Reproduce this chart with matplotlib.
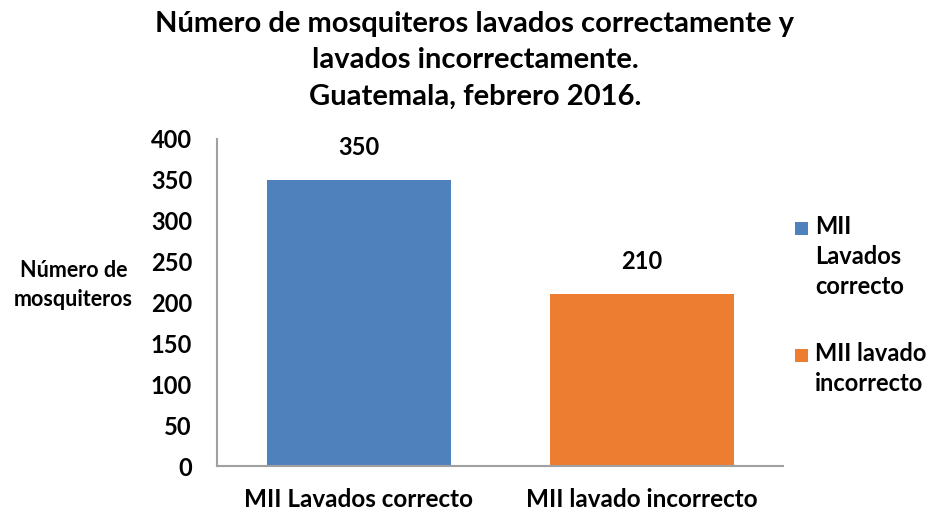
import matplotlib.pyplot as plt
from matplotlib.patches import Rectangle

# mosquiteros lavados, Guatemala febrero 2016
categorias = ['MII Lavados correcto', 'MII lavado incorrecto']
leyenda = ['MII\nLavados\ncorrecto', 'MII lavado\nincorrecto']
valores = [350, 210]
colores = ['#4F81BD', '#ED7D31']

plt.rcParams['font.family'] = ['Lato', 'DejaVu Sans']
plt.rcParams['font.weight'] = 'bold'

W, H = 933, 515
fig = plt.figure(figsize=(W / 100, H / 100), dpi=100)
ax = fig.add_axes([0.2326, 0.0951, 0.607, 0.635])

x = range(len(categorias))
barras = ax.bar(x, valores, width=0.65, color=colores)
for xi, v in zip(x, valores):
    ax.text(xi, v + 26, str(v), ha='center', va='bottom', fontsize=17, fontweight='bold')

ax.set_xlim(-0.5, 1.5)
ax.set_ylim(0, 400)
ax.set_yticks(range(0, 401, 50))
ax.set_xticks(list(x))
ax.set_xticklabels(categorias, fontsize=17.5, fontweight='bold')
ax.tick_params(axis='y', labelsize=17, length=0, pad=18)
ax.tick_params(axis='x', length=0, pad=16)
for s in ['top', 'right']:
    ax.spines[s].set_visible(False)
for s in ['left', 'bottom']:
    ax.spines[s].set_color('#A0A0A0')
    ax.spines[s].set_linewidth(1.5)

fig.text(0.079, 0.447, 'Número de\nmosquiteros', ha='center', va='center',
         fontsize=15.5, fontweight='bold', linespacing=1.45)

fig.suptitle('Número de mosquiteros lavados correctamente y\nlavados incorrectamente.\nGuatemala, febrero 2016.',
             x=0.509, y=0.979, fontsize=21, fontweight='bold', linespacing=1.5)

# leyenda a mano: cuadro alineado con la primera línea de cada texto
y_px = 228
for etiqueta, barra in zip(leyenda, barras):
    fig.patches.append(Rectangle((795 / W, 1 - (y_px + 7) / H), 13 / W, 13 / H,
                                 transform=fig.transFigure, facecolor=barra.get_facecolor(),
                                 edgecolor='none'))
    fig.text(815 / W, 1 - (y_px - 13) / H, etiqueta, ha='left', va='top',
             fontsize=17, fontweight='bold', linespacing=1.38)
    y_px += 33 * etiqueta.count('\n') + 33 + 28

fig.savefig('out.png', dpi=100)
